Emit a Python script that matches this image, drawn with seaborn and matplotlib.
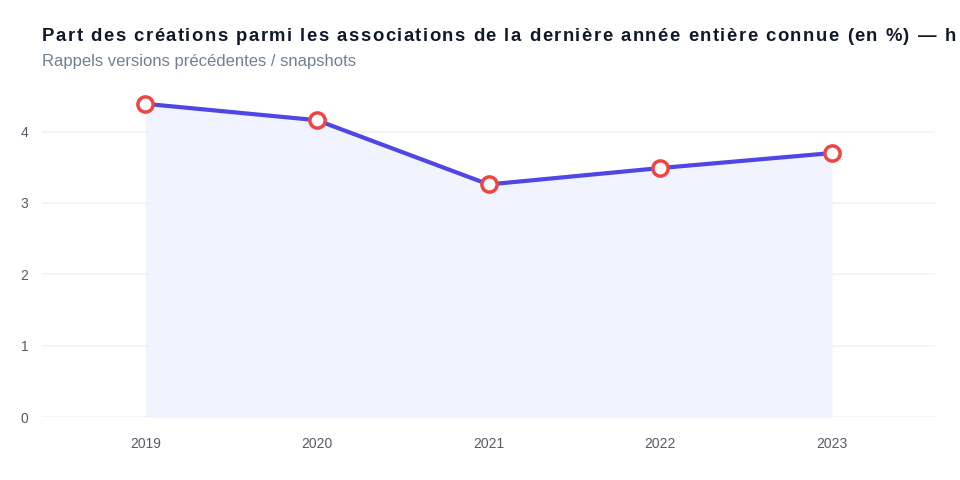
import matplotlib
matplotlib.use("Agg")
import matplotlib.pyplot as plt
import seaborn as sns
import pandas as pd

years = [2019, 2020, 2021, 2022, 2023]
share = [4.39, 4.16, 3.26, 3.49, 3.70]
yticks = [0, 1, 2, 3, 4]

title = "Part des créations parmi les associations de la dernière année entière connue (en %) — historique"
subtitle = "Rappels versions précédentes / snapshots"

sns.set_theme(style="white")
plt.rcParams['font.family'] = ['Liberation Sans', 'DejaVu Sans']

df = pd.DataFrame({"year": years, "share": share})

fig = plt.figure(figsize=(9.6, 4.8), dpi=100)
ax = fig.add_axes([0.044, 0.131, 0.930, 0.684])

ax.fill_between(df["year"], df["share"], 0, color="#EEF2FF", alpha=0.8, linewidth=0, zorder=1)
sns.lineplot(data=df, x="year", y="share", ax=ax, color="#4F46E5", linewidth=3, zorder=2)
ax.scatter(df["year"], df["share"], s=120, facecolor="white", edgecolor="#EF4444", linewidth=2.5, zorder=3)

ax.set_xlim(2018.4, 2023.6)
ax.set_ylim(0, 4.6)
ax.set_xticks(years)
ax.set_xticklabels([str(y) for y in years])
ax.set_yticks(yticks)
ax.grid(axis="y", color="#F1F2F6", linewidth=1.2)
ax.set_axisbelow(True)
for s in ax.spines.values():
    s.set_visible(False)
ax.tick_params(axis="both", length=0, labelsize=10, labelcolor="#555B66")
ax.tick_params(axis="x", pad=14)
ax.tick_params(axis="y", pad=10)
ax.set_xlabel("")
ax.set_ylabel("")

# title drawn char by char to get the letter spacing of the original;
# the original runs off the right edge, so stop at the last char that fits
renderer = fig.canvas.get_renderer()
tkw = dict(fontsize=13.3, fontweight="bold", color="#111827", va="baseline")
def text_w(s):
    t = fig.text(0, 0, s + "|", **tkw)
    w = t.get_window_extent(renderer).width
    t.remove()
    return w
bar_w = text_w("")
spacing = 1.5
x0 = 42
for i, ch in enumerate(title):
    x = x0 + (text_w(title[:i]) - bar_w) + i * spacing
    t = fig.text(x / 960, 0.915, ch, **tkw)
    if t.get_window_extent(renderer).x1 > 960.5:
        t.remove()
        break

fig.text(0.044, 0.862, subtitle, fontsize=12, color="#718096", va="baseline")

plt.savefig("out.png", dpi=100)
plt.close()
